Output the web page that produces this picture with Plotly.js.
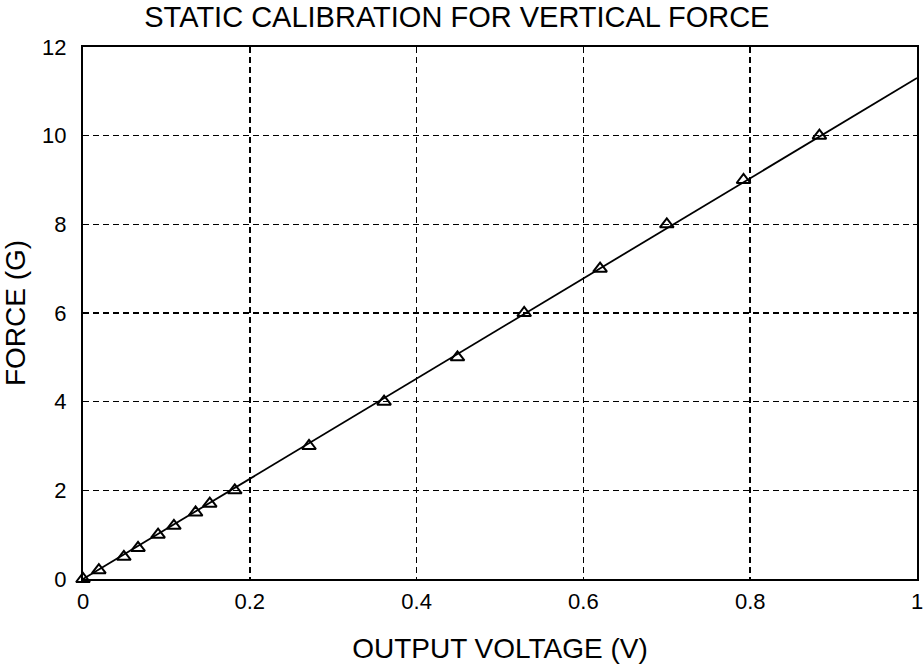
<!DOCTYPE html>
<html>
<head>
<meta charset="utf-8">
<script src="https://cdn.plot.ly/plotly-3.0.1.min.js"></script>
<style>html,body{margin:0;padding:0;background:#fff;}#chart{width:923px;height:666px;}</style>
</head>
<body>
<div id="chart"></div>
<script>
// Measured calibration points
const voltage = [0, 0.019, 0.049, 0.066, 0.090, 0.109, 0.135, 0.152, 0.182, 0.271, 0.361, 0.449, 0.529, 0.620, 0.700, 0.792, 0.883];
const force   = [0, 0.2, 0.5, 0.7, 1.0, 1.2, 1.5, 1.7, 2.0, 3.0, 4.0, 5.0, 6.0, 7.0, 8.0, 9.0, 10.0];
// Fitted calibration line endpoints
const fitVoltage = [0, 1];
const fitForce = [0, 11.3];
const xTicks = [0, 0.2, 0.4, 0.6, 0.8, 1];
const xTickText = ['0', '0.2', '0.4', '0.6', '0.8', '1'];
const yTicks = [0, 2, 4, 6, 8, 10, 12];

const font = 'Liberation Sans, Arial, Helvetica, sans-serif';

const traces = [
  {x: fitVoltage, y: fitForce, mode: 'lines', line: {color: '#000', width: 1.8}, hoverinfo: 'skip'},
  {x: voltage, y: force, mode: 'markers', marker: {symbol: 'triangle-up-open', size: 12, color: '#000', line: {width: 2, color: '#000'}}, cliponaxis: false}
];

const layout = {
  width: 923, height: 666,
  margin: {l: 83, r: 6, t: 47, b: 87},
  paper_bgcolor: '#fff', plot_bgcolor: '#fff',
  showlegend: false,
  font: {family: font, color: '#000'},
  title: {text: 'STATIC CALIBRATION FOR VERTICAL FORCE', x: 0.495, xref: 'container', xanchor: 'center', y: 0.974, yref: 'container', yanchor: 'middle', font: {size: 29, family: font, color: '#000'}},
  xaxis: {
    range: [0, 1], tickvals: xTicks, ticktext: xTickText, ticks: '', ticklabelstandoff: 2, ticklabeloverflow: 'allow',
    showline: true, mirror: true, linecolor: '#000', linewidth: 2,
    showgrid: true, gridcolor: '#000', griddash: '6px,4px', gridwidth: 1.5, zeroline: false,
    tickfont: {size: 22, family: font, color: '#000'},
    title: {text: 'OUTPUT VOLTAGE (V)', font: {size: 28, family: font, color: '#000'}, standoff: 25}
  },
  yaxis: {
    range: [0, 12], tickvals: yTicks, ticks: '', ticklabelstandoff: 10, ticklabeloverflow: 'allow',
    showline: true, mirror: true, linecolor: '#000', linewidth: 2,
    showgrid: true, gridcolor: '#000', griddash: '6px,4px', gridwidth: 1.5, zeroline: false,
    tickfont: {size: 22, family: font, color: '#000'},
    title: {text: 'FORCE (G)', font: {size: 28, family: font, color: '#000'}, standoff: 10}
  }
};

Plotly.newPlot('chart', traces, layout, {displayModeBar: false, staticPlot: true});
</script>
</body>
</html>
